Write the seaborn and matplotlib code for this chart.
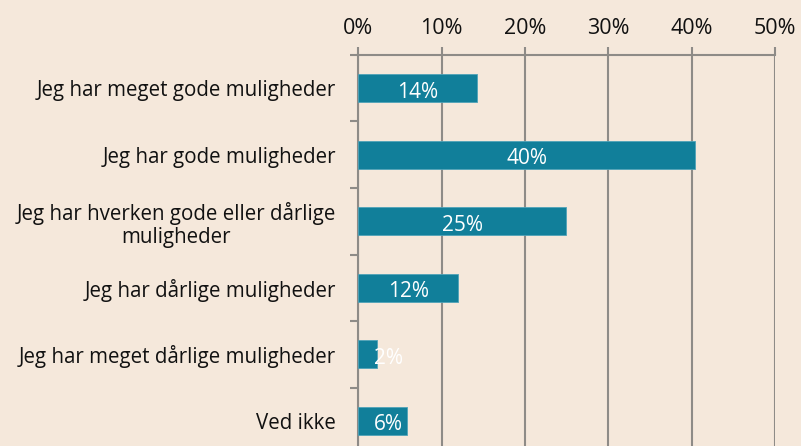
import matplotlib
matplotlib.use("Agg")
import matplotlib.pyplot as plt
import seaborn as sns
import pandas as pd
import numpy as np
from matplotlib.ticker import FixedLocator, PercentFormatter

categories = [
    "Jeg har meget gode muligheder",
    "Jeg har gode muligheder",
    "Jeg har hverken gode eller dårlige\nmuligheder",
    "Jeg har dårlige muligheder",
    "Jeg har meget dårlige muligheder",
    "Ved ikke",
]
values = [14.2, 40.4, 24.9, 12.0, 2.2, 5.9]
bar_labels = ["14%", "40%", "25%", "12%", "2%", "6%"]
xticks = [0, 10, 20, 30, 40, 50]

bg = "#F5E8DB"
teal = "#117F9A"
grid = "#8E8B87"

sns.set_theme(style="white")
plt.rcParams["font.family"] = ["Open Sans", "DejaVu Sans"]

df = pd.DataFrame({"cat": categories, "val": values})

fig = plt.figure(figsize=(8.01, 4.46), dpi=100, facecolor=bg)
ax = fig.add_axes([0.4473, -0.018, 0.5202, 0.8947])
ax.set_facecolor(bg)

sns.barplot(data=df, x="val", y="cat", color=teal, saturation=1, width=0.42,
            edgecolor="#4FA3B8", linewidth=0.6, ax=ax, zorder=3)

ax.set_xlim(0, 50)
ax.set_ylim(len(categories) - 0.5, -0.5)
ax.set_xlabel("")
ax.set_ylabel("")

# percent axis sits on top, like the original
ax.xaxis.tick_top()
ax.set_xticks(xticks)
ax.xaxis.set_major_formatter(PercentFormatter(decimals=0))
ax.tick_params(axis="x", which="major", length=5.8, width=1.5, color=grid,
               labelsize=15.5, labelcolor="#111111", pad=6, direction="out")
ax.grid(axis="x", color=grid, linewidth=1.5, zorder=0)

# small ticks between categories on the left spine
ax.yaxis.set_minor_locator(FixedLocator(np.arange(-0.5, len(categories), 1.0)))
ax.tick_params(axis="y", which="major", length=0, labelsize=14.8, labelcolor="#111111", pad=16)
ax.tick_params(axis="y", which="minor", left=True, length=5.8, width=1.5, color=grid)
for lab in ax.get_yticklabels():
    lab.set_multialignment("center")
    lab.set_linespacing(1.15)

for side in ["right", "bottom"]:
    ax.spines[side].set_visible(False)
for side in ["top", "left"]:
    ax.spines[side].set_color(grid)
    ax.spines[side].set_linewidth(1.5)

for i, (v, lab) in enumerate(zip(values, bar_labels)):
    ax.text(max(v / 2, 3.6), i + 0.06, lab, ha="center", va="center",
            color="white", fontsize=15, zorder=4)

fig.savefig("out.png", dpi=100, facecolor=bg)
